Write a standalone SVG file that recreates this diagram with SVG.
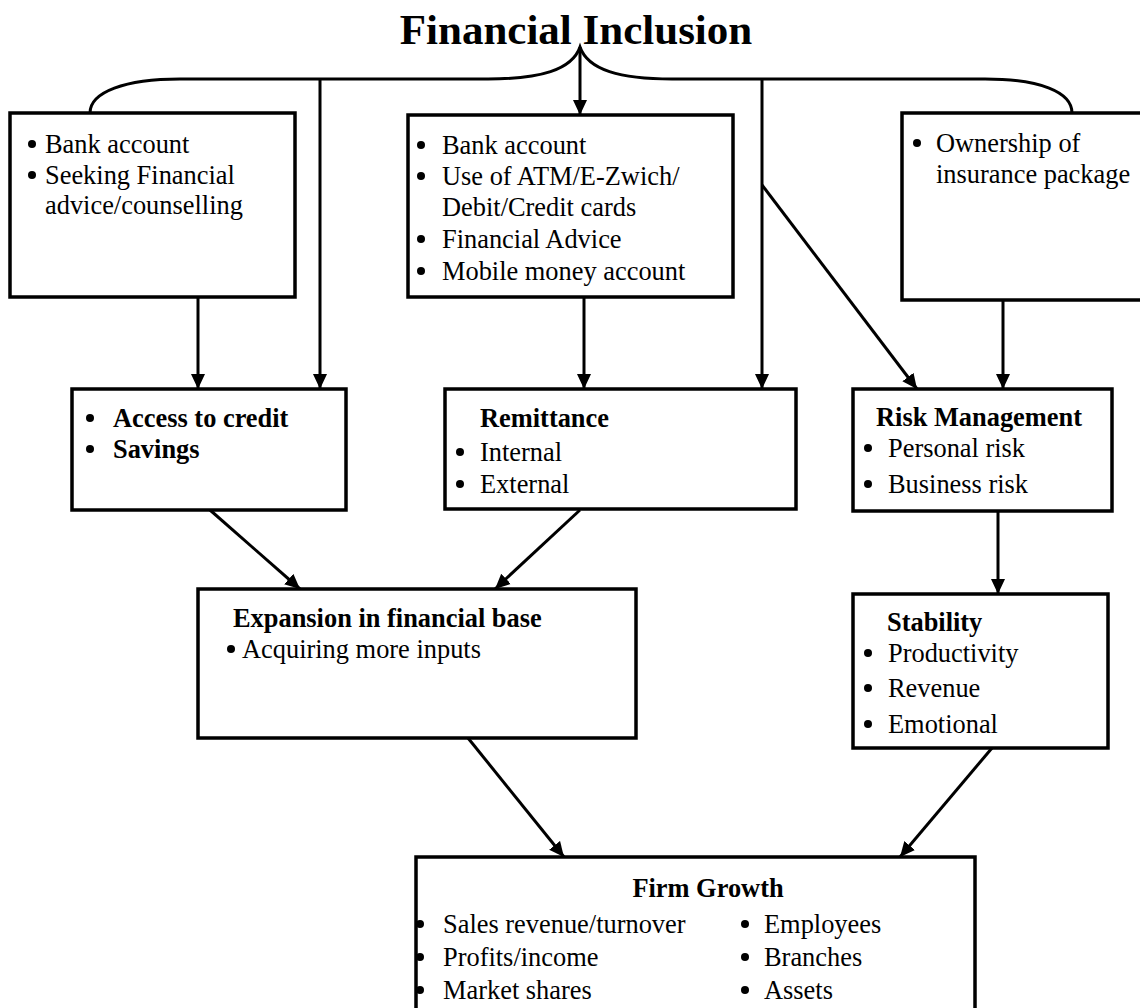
<svg xmlns="http://www.w3.org/2000/svg" width="1140" height="1008" viewBox="0 0 1140 1008">
<style>
text{font-family:"Liberation Serif","Times New Roman",serif;font-size:26.4px;fill:#000}
.b{font-weight:bold}
.title{font-weight:bold;font-size:43px}
.box{fill:#fff;stroke:#000;stroke-width:3.5}
.ln{fill:none;stroke:#000;stroke-width:3}
.dot{fill:#000}
</style>
<defs>
<marker id="ah" markerUnits="userSpaceOnUse" markerWidth="16" markerHeight="16" viewBox="0 0 16 16" refX="15" refY="8" orient="auto">
<path d="M0,1 L15,8 L0,15 Z" fill="#000"/>
</marker>
</defs>
<text class="title" x="576" y="44" text-anchor="middle">Financial Inclusion</text>

<g id="connectors">
<path class="ln" d="M90,113 C90,92 125,79 180,79 L488,79 C540,79 572,70 580,47 C588,70 620,79 672,79 L985,79 C1040,79 1072,92 1072,113"/>
<line class="ln" x1="580" y1="47" x2="580" y2="115" marker-end="url(#ah)"/>
<line class="ln" x1="320" y1="79" x2="320" y2="389" marker-end="url(#ah)"/>
<line class="ln" x1="762" y1="79" x2="762" y2="389" marker-end="url(#ah)"/>
<line class="ln" x1="762" y1="185" x2="917" y2="389" marker-end="url(#ah)"/>
<line class="ln" x1="198" y1="297" x2="198" y2="389" marker-end="url(#ah)"/>
<line class="ln" x1="584" y1="297" x2="584" y2="389" marker-end="url(#ah)"/>
<line class="ln" x1="1003" y1="300" x2="1003" y2="389" marker-end="url(#ah)"/>
<line class="ln" x1="210" y1="510" x2="300" y2="589" marker-end="url(#ah)"/>
<line class="ln" x1="580" y1="510" x2="495" y2="589" marker-end="url(#ah)"/>
<line class="ln" x1="998" y1="511" x2="998" y2="594" marker-end="url(#ah)"/>
<line class="ln" x1="468" y1="738" x2="564" y2="857" marker-end="url(#ah)"/>
<line class="ln" x1="992" y1="748" x2="900" y2="857" marker-end="url(#ah)"/>
</g>

<g id="box-account">
<rect class="box" x="10" y="113" width="285" height="184"/>
<circle class="dot" cx="32" cy="144" r="4"/>
<text x="45" y="153">Bank account</text>
<circle class="dot" cx="32" cy="175" r="4"/>
<text x="45" y="184">Seeking Financial</text>
<text x="45" y="214">advice/counselling</text>
</g>

<g id="box-cards">
<rect class="box" x="408" y="115" width="325" height="182"/>
<circle class="dot" cx="421" cy="145" r="4"/>
<text x="442" y="154">Bank account</text>
<circle class="dot" cx="421" cy="176" r="4"/>
<text x="442" y="185">Use of ATM/E-Zwich/</text>
<text x="442" y="216">Debit/Credit cards</text>
<circle class="dot" cx="421" cy="239" r="4"/>
<text x="442" y="248">Financial Advice</text>
<circle class="dot" cx="421" cy="271" r="4"/>
<text x="442" y="280">Mobile money account</text>
</g>

<g id="box-insurance">
<rect class="box" x="902" y="113" width="250" height="187"/>
<circle class="dot" cx="917" cy="143" r="4"/>
<text x="936" y="152">Ownership of</text>
<text x="936" y="183">insurance package</text>
</g>

<g id="box-credit">
<rect class="box" x="72" y="389" width="274" height="121"/>
<circle class="dot" cx="90" cy="418" r="4"/>
<text class="b" x="113" y="427">Access to credit</text>
<circle class="dot" cx="90" cy="449" r="4"/>
<text class="b" x="113" y="458">Savings</text>
</g>

<g id="box-remittance">
<rect class="box" x="445" y="389" width="351" height="120"/>
<text class="b" x="480" y="427">Remittance</text>
<circle class="dot" cx="460" cy="452" r="4"/>
<text x="480" y="461">Internal</text>
<circle class="dot" cx="460" cy="484" r="4"/>
<text x="480" y="493">External</text>
</g>

<g id="box-risk">
<rect class="box" x="853" y="389" width="259" height="122"/>
<text class="b" x="876" y="426">Risk Management</text>
<circle class="dot" cx="868" cy="448" r="4"/>
<text x="888" y="457">Personal risk</text>
<circle class="dot" cx="868" cy="484" r="4"/>
<text x="888" y="493">Business risk</text>
</g>

<g id="box-expansion">
<rect class="box" x="198" y="589" width="438" height="149"/>
<text class="b" x="233" y="627">Expansion in financial base</text>
<circle class="dot" cx="231" cy="649" r="4"/>
<text x="242" y="658">Acquiring more inputs</text>
</g>

<g id="box-stability">
<rect class="box" x="853" y="594" width="255" height="154"/>
<text class="b" x="887" y="631">Stability</text>
<circle class="dot" cx="868" cy="653" r="4"/>
<text x="888" y="662">Productivity</text>
<circle class="dot" cx="868" cy="688" r="4"/>
<text x="888" y="697">Revenue</text>
<circle class="dot" cx="868" cy="724" r="4"/>
<text x="888" y="733">Emotional</text>
</g>

<g id="box-growth">
<rect class="box" x="416" y="857" width="559" height="170"/>
<text class="b" x="708" y="897" text-anchor="middle">Firm Growth</text>
<circle class="dot" cx="420" cy="924" r="4"/>
<text x="443" y="933">Sales revenue/turnover</text>
<circle class="dot" cx="420" cy="957" r="4"/>
<text x="443" y="966">Profits/income</text>
<circle class="dot" cx="420" cy="990" r="4"/>
<text x="443" y="999">Market shares</text>
<circle class="dot" cx="745" cy="924" r="4"/>
<text x="764" y="933">Employees</text>
<circle class="dot" cx="745" cy="957" r="4"/>
<text x="764" y="966">Branches</text>
<circle class="dot" cx="745" cy="990" r="4"/>
<text x="764" y="999">Assets</text>
</g>
</svg>
